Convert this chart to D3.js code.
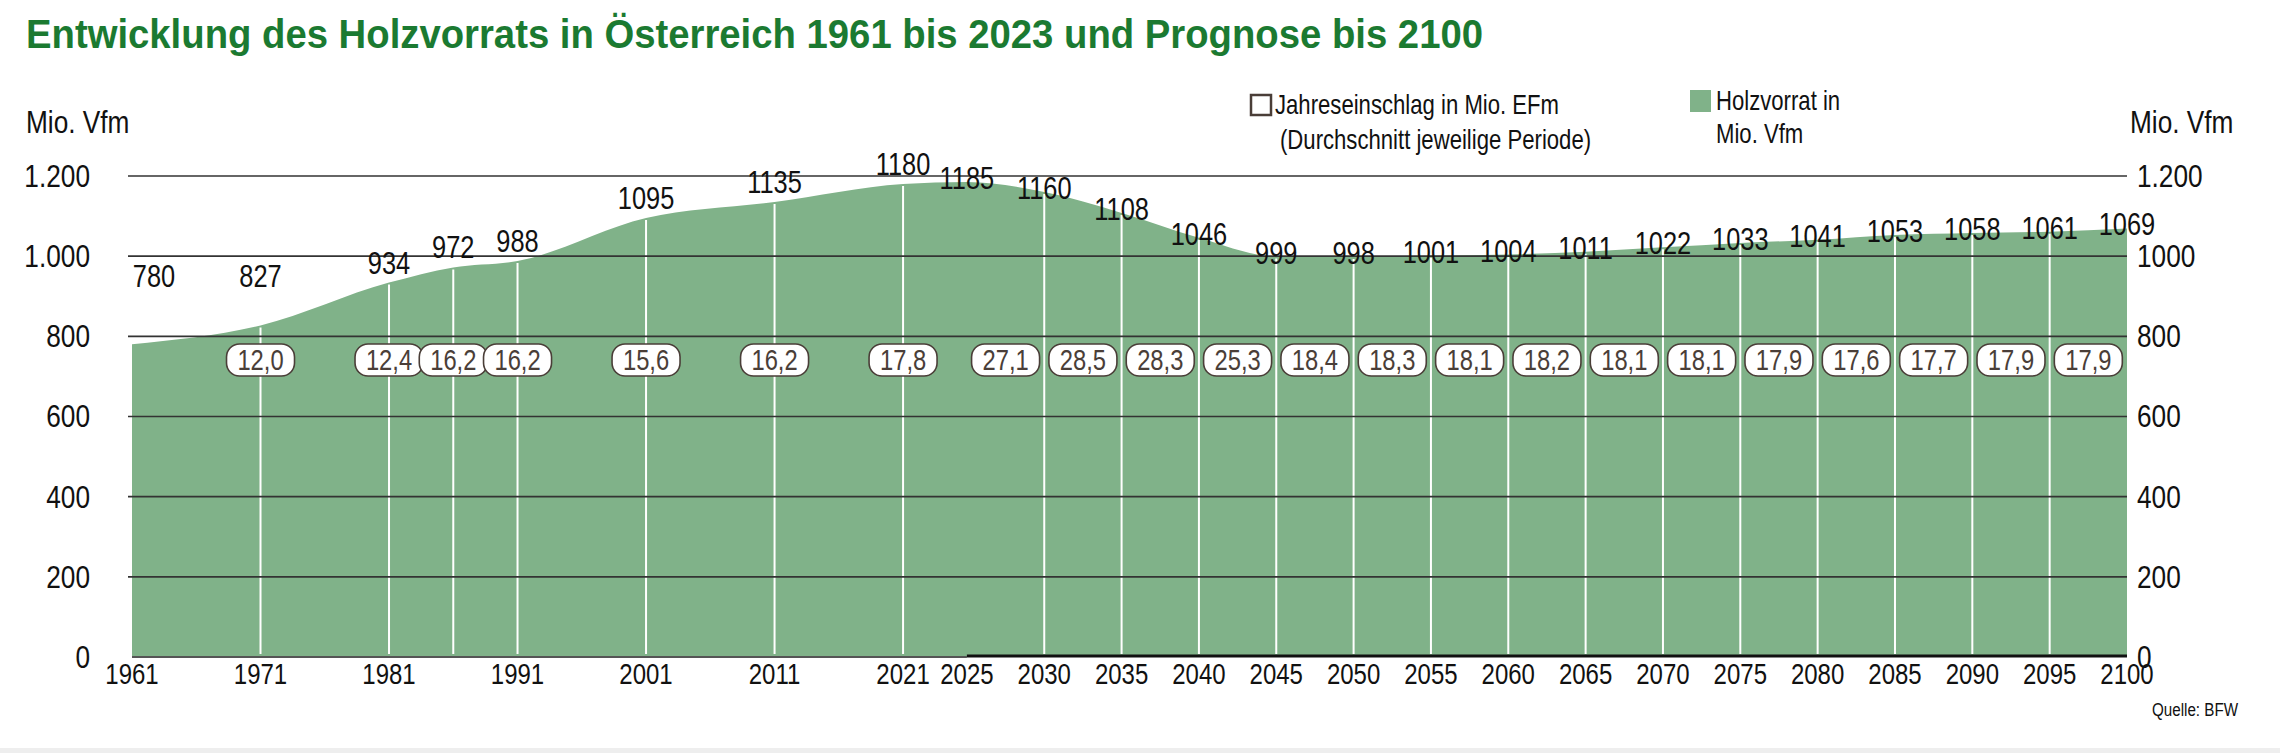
<!DOCTYPE html>
<html><head><meta charset="utf-8">
<script src="https://cdn.jsdelivr.net/npm/d3@7/dist/d3.min.js"></script>
<style>body{margin:0;background:#fff}text{font-family:"Liberation Sans",Arial,sans-serif}</style>
</head><body><svg id="c" width="2280" height="753"></svg>
<script>
const years = [1961,1971,1981,1986,1991,2001,2011,2021,2025,2030,2035,2040,2045,2050,2055,2060,2065,2070,2075,2080,2085,2090,2095,2100];
const stock = [780,827,934,972,988,1095,1135,1180,1185,1160,1108,1046,999,998,1001,1004,1011,1022,1033,1041,1053,1058,1061,1069];
const harvestHistYears = [1971,1981,1986,1991,2001,2011,2021];
const harvestHist = [12.0,12.4,16.2,16.2,15.6,16.2,17.8];
const harvestProjYears = [2027.5,2032.5,2037.5,2042.5,2047.5,2052.5,2057.5,2062.5,2067.5,2072.5,2077.5,2082.5,2087.5,2092.5,2097.5];
const harvestProj = [27.1,28.5,28.3,25.3,18.4,18.3,18.1,18.2,18.1,18.1,17.9,17.6,17.7,17.9,17.9];
const yTicks = [0,200,400,600,800,1000,1200];
const leftTickLabels = ["0","200","400","600","800","1.000","1.200"];
const rightTickLabels = ["0","200","400","600","800","1000","1.200"];
const xTicks = [1961,1971,1981,1991,2001,2011,2021,2025,2030,2035,2040,2045,2050,2055,2060,2065,2070,2075,2080,2085,2090,2095,2100];

const svg = d3.select("#c");
const X0=132, X1=2127, W=X1-X0;
const x = d3.scaleLinear().domain([1961,2021,2025,2100]).range([X0, X0+W*0.3865, X0+W*0.4185, X1]);
const y = d3.scaleLinear().domain([0,1200]).range([657,176]);
const data = years.map((d,i)=>({year:d,v:stock[i]}));
const green="#1b7a31", dark="#4a3e38";
// narrow look: horizontally condensed text
function cond(sel, k){ return sel.attr("transform", function(){ const tx=+this.getAttribute("x"), ty=+this.getAttribute("y"); return `translate(${tx},${ty}) scale(${k},1) translate(${-tx},${-ty})`; }); }

svg.append("text").attr("x",26).attr("y",48).attr("font-size",40).attr("font-weight","bold").attr("fill",green)
  .attr("textLength",1457).attr("lengthAdjust","spacingAndGlyphs")
  .text("Entwicklung des Holzvorrats in Österreich 1961 bis 2023 und Prognose bis 2100");

svg.append("path").datum(data).attr("fill","#80b289")
  .attr("d", d3.area().x(d=>x(d.year)).y0(y(0)).y1(d=>y(d.v)).curve(d3.curveMonotoneX));

svg.selectAll(".div").data(data.filter(d=>d.year!==1961&&d.year!==2025&&d.year!==2100)).join("line")
  .attr("x1",d=>x(d.year)).attr("x2",d=>x(d.year)).attr("y1",d=>y(d.v)+2).attr("y2",y(0)-3)
  .attr("stroke","#fff").attr("stroke-width",2);

svg.selectAll(".g").data(yTicks.filter(t=>t>0)).join("line")
  .attr("x1",X0-4).attr("x2",X1).attr("y1",d=>y(d)).attr("y2",d=>y(d)).attr("stroke","#333").attr("stroke-width",1.6);
svg.append("line").attr("x1",X0).attr("x2",x(2025)).attr("y1",y(0)).attr("y2",y(0)).attr("stroke","#555").attr("stroke-width",2);
svg.append("line").attr("x1",x(2025)).attr("x2",X1).attr("y1",y(0)-1).attr("y2",y(0)-1).attr("stroke","#111").attr("stroke-width",3);

cond(svg.selectAll(".lt").data(yTicks).join("text").attr("x",90).attr("y",d=>y(d)+11)
  .attr("text-anchor","end").attr("font-size",32).attr("fill","#111").text((d,i)=>leftTickLabels[i]),0.82);
cond(svg.selectAll(".rt").data(yTicks).join("text").attr("x",2137).attr("y",d=>y(d)+11)
  .attr("font-size",32).attr("fill","#111").text((d,i)=>rightTickLabels[i]),0.82);
cond(svg.selectAll(".xt").data(xTicks).join("text").attr("x",d=>x(d)).attr("y",684)
  .attr("text-anchor","middle").attr("font-size",30).attr("fill","#111").text(d=>d),0.8);
cond(svg.append("text").attr("x",26).attr("y",133).attr("font-size",32).attr("fill","#111").text("Mio. Vfm"),0.82);
cond(svg.append("text").attr("x",2130).attr("y",133).attr("font-size",32).attr("fill","#111").text("Mio. Vfm"),0.82);
cond(svg.append("text").attr("x",2238).attr("y",716).attr("text-anchor","end").attr("font-size",19).attr("fill","#111").text("Quelle: BFW"),0.8);

cond(svg.selectAll(".vl").data(data).join("text")
  .attr("x",d=>Math.max(x(d.year), X0+22))
  .attr("y",d=> (d.year<=2021 ? Math.min(y(d.v)-20, y(800)-60) : y(d.v)-4) + 11)
  .attr("text-anchor","middle").attr("font-size",31).attr("fill","#111").text(d=>d.v),0.82);

const boxes = harvestHistYears.map((d,i)=>({year:d,v:harvestHist[i]}))
  .concat(harvestProjYears.map((d,i)=>({year:d,v:harvestProj[i]})));
const bg = svg.selectAll(".bx").data(boxes).join("g").attr("transform",d=>`translate(${x(d.year)},360)`);
bg.append("rect").attr("x",-34).attr("y",-16).attr("width",68).attr("height",32).attr("rx",13)
  .attr("fill","#fff").attr("stroke",dark).attr("stroke-width",1.6);
bg.append("text").attr("text-anchor","middle").attr("dy","0.36em").attr("font-size",29).attr("fill",dark)
  .attr("transform","scale(0.82,1)").text(d=>d.v.toFixed(1).replace(".",","));

svg.append("rect").attr("x",1251).attr("y",95).attr("width",20).attr("height",20).attr("fill","#fff").attr("stroke",dark).attr("stroke-width",2.5);
cond(svg.append("text").attr("x",1275).attr("y",114).attr("font-size",27).attr("fill","#111").text("Jahreseinschlag in Mio. EFm"),0.82);
cond(svg.append("text").attr("x",1280).attr("y",149).attr("font-size",27).attr("fill","#111").text("(Durchschnitt jeweilige Periode)"),0.82);
svg.append("rect").attr("x",1690).attr("y",90).attr("width",21).attr("height",22).attr("fill","#80b289");
cond(svg.append("text").attr("x",1716).attr("y",110).attr("font-size",27).attr("fill","#111").text("Holzvorrat in"),0.82);
cond(svg.append("text").attr("x",1716).attr("y",143).attr("font-size",27).attr("fill","#111").text("Mio. Vfm"),0.82);
svg.append("rect").attr("x",0).attr("y",748).attr("width",2280).attr("height",5).attr("fill","#eee");
</script></body></html>
